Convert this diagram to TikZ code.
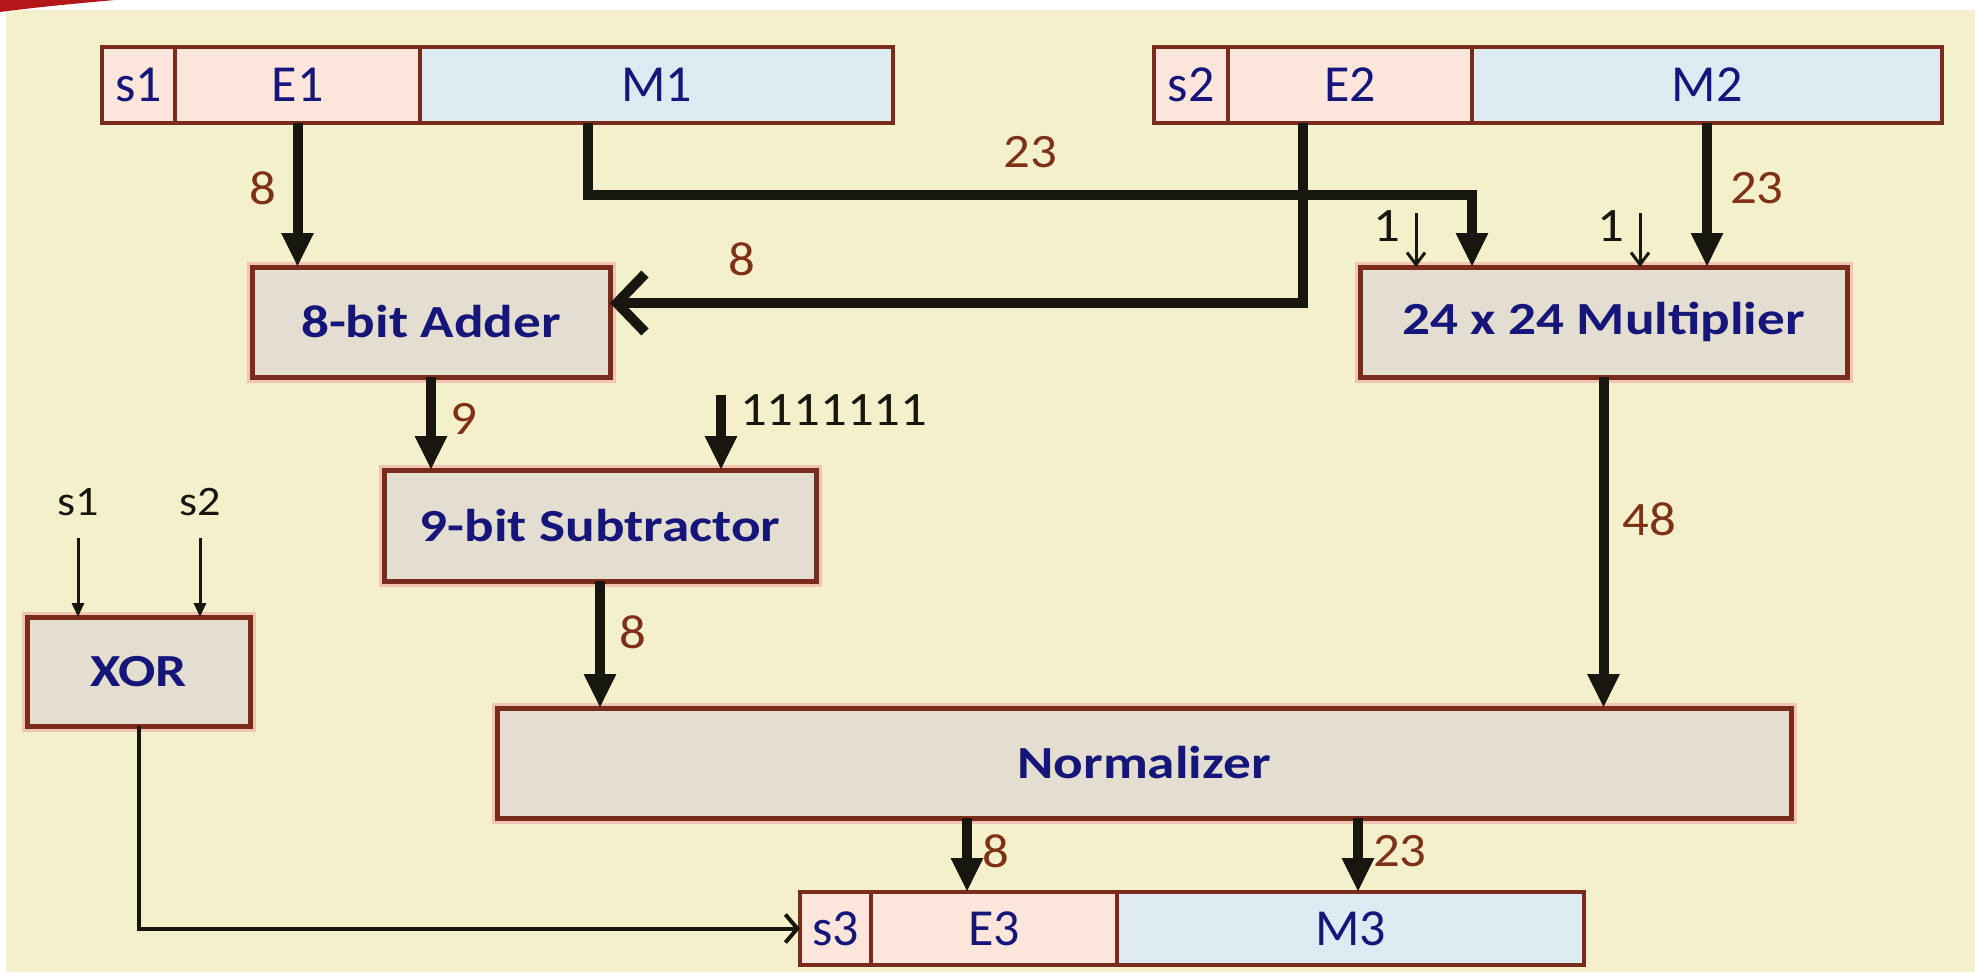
\documentclass[tikz,border=0pt]{standalone}
\usepackage{fontspec}
\setmainfont{Carlito}
\newfontfamily\kotakfont{Carlito}[FakeStretch=1.2]
\newfontfamily\angkafont{Carlito}[FakeStretch=1.1]
\usetikzlibrary{arrows.meta}

\definecolor{latar}{HTML}{F5F0CC}
\definecolor{isikotak}{HTML}{E3DED0}
\definecolor{garis}{HTML}{7A2C1C}
\definecolor{halo}{HTML}{F2C4B4}
\definecolor{ruasE}{HTML}{FCE6DB}
\definecolor{ruasM}{HTML}{DDEAF1}
\definecolor{biru}{HTML}{16167A}
\definecolor{coklat}{HTML}{7E3117}
\definecolor{panah}{HTML}{17170F}
\definecolor{merah}{HTML}{B3161B}

\begin{document}
\begin{tikzpicture}[x=1pt,y=-1pt,
    kotak/.style={draw=garis,fill=isikotak,line width=5pt,
      preaction={draw=halo,line width=11pt},inner sep=0pt,outer sep=0pt,
      text=biru,font=\kotakfont\bfseries\fontsize{46}{50}\selectfont},
    ruas/.style={draw=garis,line width=4pt,inner sep=0pt,outer sep=0pt,
      minimum height=76pt,text=biru,font=\fontsize{52}{56}\selectfont},
    angka/.style={text=coklat,inner sep=0pt,
      font=\angkafont\fontsize{48}{50}\selectfont},
    hitam/.style={text=panah,inner sep=0pt,
      font=\angkafont\fontsize{48}{50}\selectfont},
    bus/.style={draw=panah,line width=10pt,-{Triangle[length=34pt,width=30pt]}},
    tipis/.style={draw=panah,line width=3pt,-{Triangle[length=14pt,width=12pt]}},
    kecil/.style={draw=panah,line width=3pt,-{Straight Barb[length=12pt,width=18pt]}}]

    % latar
    \useasboundingbox (0,0) rectangle (1975,972);
    \fill[white] (0,0) rectangle (1975,972);
    \fill[latar] (6,10) rectangle (1975,972);
    \fill[merah] (0,0) -- (115,0) .. controls (70,4) and (30,8) .. (0,12) -- cycle;

    % operan 1 dan 2
    \node[ruas,fill=ruasE,minimum width=73pt] (s1) at (138.5,85) {s1};
    \node[ruas,fill=ruasE,minimum width=245pt] (E1) at (297.5,85) {E1};
    \node[ruas,fill=ruasM,minimum width=473pt] (M1) at (656.5,85) {M1};
    \node[ruas,fill=ruasE,minimum width=74pt] (s2) at (1191,85) {s2};
    \node[ruas,fill=ruasE,minimum width=244pt] (E2) at (1350,85) {E2};
    \node[ruas,fill=ruasM,minimum width=470pt] (M2) at (1707,85) {M2};

    % blok
    \node[kotak,minimum width=358pt,minimum height=110pt] (adder) at (431,322) {8-bit Adder};
    \node[kotak,minimum width=487pt,minimum height=110pt] (mult) at (1603.5,322) {24 x 24 Multiplier};
    \node[kotak,minimum width=432pt,minimum height=111pt] (sub) at (600,525.5) {9-bit Subtractor};
    \node[kotak,minimum width=1294pt,minimum height=110pt] (norm) at (1144,763) {Normalizer};
    \node[kotak,minimum width=223pt,minimum height=109pt] (xor) at (138.5,671.5) {XOR};

    % hasil
    \node[ruas,fill=ruasE,minimum width=71pt,minimum height=73pt] (s3) at (835.5,928.5) {s3};
    \node[ruas,fill=ruasE,minimum width=246pt,minimum height=73pt] (E3) at (994,928.5) {E3};
    \node[ruas,fill=ruasM,minimum width=467pt,minimum height=73pt] (M3) at (1350.5,928.5) {M3};

    % jalur eksponen
    \draw[bus] (E1.south) -- (E1.south |- adder.north)
      node[pos=0.45,angka,left=16pt] {8};
    \draw[bus,-{Straight Barb[length=28pt,width=58pt]}]
      (1303,0 |- E2.south) |- (adder.east |- 0,303)
      node[pos=0.905,angka,above=22pt] {8};
    \draw[bus] (adder) -- (adder |- sub.north)
      node[pos=0.45,angka,right=14pt] {9};
    \coordinate (konst) at (721,395);
    \draw[bus] (konst) -- (konst |- sub.north)
      node[pos=0.2,hitam,right=14pt] {1111111};
    \draw[bus] (sub) -- (sub |- norm.north)
      node[pos=0.4,angka,right=14pt] {8};

    % jalur mantissa
    \draw[bus] (588,0 |- M1.south)
      |- node[pos=0.75,angka,above=22pt] {23} (1472,195)
      -- (1472,0 |- mult.north);
    \draw[bus] (M2.south) -- (M2.south |- mult.north)
      node[pos=0.45,angka,right=18pt] {23};
    \coordinate (satu1) at (1416,213);
    \coordinate (satu2) at (1640,213);
    \draw[kecil] (satu1) -- (satu1 |- mult.north)
      node[pos=0.25,hitam,left=14pt] {1};
    \draw[kecil] (satu2) -- (satu2 |- mult.north)
      node[pos=0.25,hitam,left=14pt] {1};
    \draw[bus] (mult) -- (mult |- norm.north)
      node[pos=0.43,angka,right=14pt] {48};

    % keluaran normalizer
    \draw[bus] (967,0 |- norm.south) -- (967,0 |- E3.north)
      node[pos=0.45,angka,right=10pt] {8};
    \draw[bus] (1358,0 |- norm.south) -- (1358,0 |- M3.north)
      node[pos=0.45,angka,right=10pt] {23};

    % tanda
    \node[hitam,font=\angkafont\fontsize{42}{44}\selectfont] (in1) at (78,502) {s1};
    \node[hitam,font=\angkafont\fontsize{42}{44}\selectfont] (in2) at (200,502) {s2};
    \draw[tipis,shorten <=22pt] (in1) -- (in1 |- xor.north);
    \draw[tipis,shorten <=22pt] (in2) -- (in2 |- xor.north);
    \draw[draw=panah,line width=4pt,-{Straight Barb[length=12pt,width=28pt]}]
      (xor.south) |- (s3.west);
  \end{tikzpicture}
\end{document}
